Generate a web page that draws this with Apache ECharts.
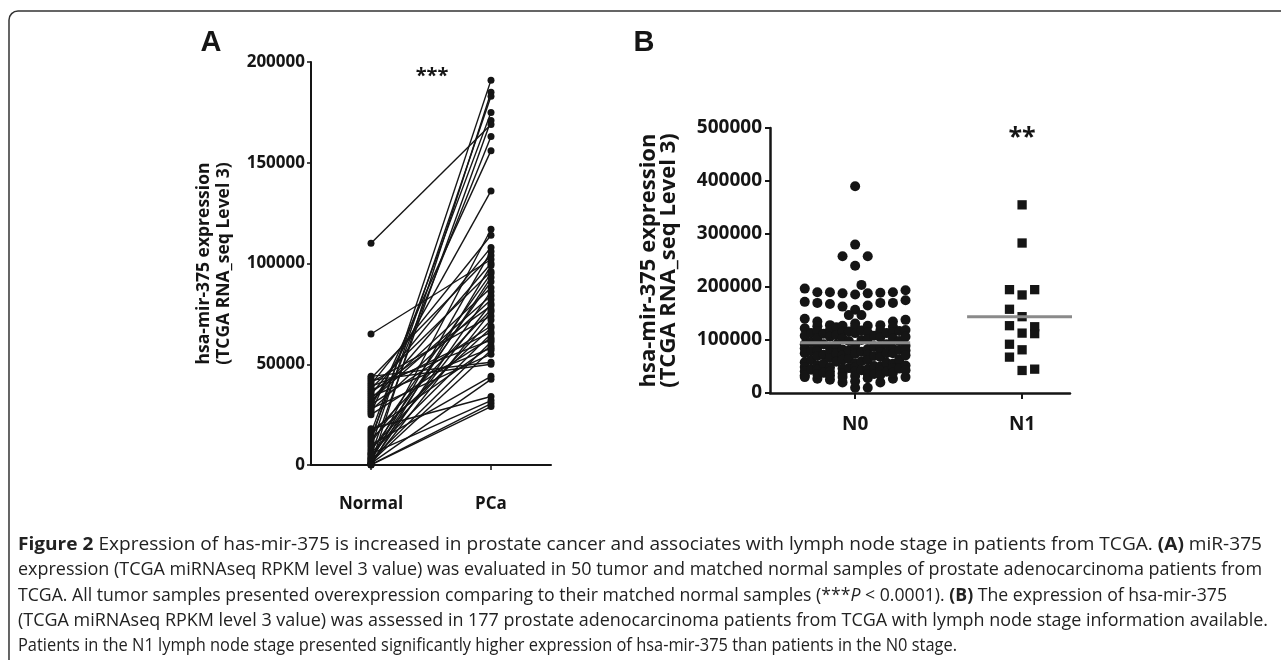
<!DOCTYPE html>
<html><head><meta charset="utf-8">
<script src="https://cdn.jsdelivr.net/npm/echarts@6/dist/echarts.min.js"></script>
<style>html,body{margin:0;padding:0;background:#fff}#c{width:1281px;height:660px}</style>
</head><body><div id="c"></div>
<script>
// ---------- Panel A: paired Normal vs PCa (50 patients) ----------
const panelACategories = ['Normal', 'PCa'];
const pairNormal = [12000, 300, 9000, 16000, 5000, 110000, 14000, 26000, 29000, 3000,
  40000, 35000, 2000, 43000, 65000, 31000, 0, 38000, 11000, 3500,
  7000, 33000, 1000, 32000, 27000, 4000, 36000, 15000, 500, 41000,
  8000, 30000, 13000, 37000, 6000, 25000, 39000, 2500, 17000, 34000,
  1500, 28000, 44000, 42000, 10000, 800, 18000, 5500, 200, 100];
const pairPCa = [191000, 185000, 183000, 175000, 171000, 169000, 163000, 156000, 136000, 117000,
  114000, 108000, 106000, 104000, 102000, 100000, 99000, 96000, 95000, 93000,
  91000, 88000, 86000, 84000, 82000, 80000, 79000, 77000, 76000, 74000,
  72000, 69000, 68000, 66000, 65000, 63000, 62000, 61000, 59000, 58000,
  57000, 55000, 51000, 50000, 44000, 42500, 34000, 32000, 30500, 29000];
const yTickLabelsA = ['0', '50000', '100000', '150000', '200000'];

// ---------- Panel B: N0 vs N1 column scatter ----------
const panelBCategories = ['N0', 'N1'];
// [beeswarm column, value]
const n0Points = [
  [0,390000],[0,280000],[-1,258000],[1,258000],[0,240000],[0.5,204000],
  [-4,197000],[-3,190000],[-2,190000],[-1,188000],[0,186000],[1,188000],[2,189000],[3,190000],[4,194000],
  [-4,172000],[-3,170000],[-2,168000],[-1,163000],[1,165000],[2,170000],[3,170000],[4,175000],
  [0,157000],[-0.5,147000],[0.5,147000],
  [-4,140000],[-3,135000],[3,135000],[4,138000],
  [-4,30000],[-3,27000],[-2,25000],[-1,20000],[0,10000],[1,10000],[2,20000],[3,27000],[4,30000],
  [-4,122000],[-4,108000],[-4,92000],[-4,84000],[-4,75000],[-4,58000],[-4,49000],[-4,41000],[-4,33000],
  [-3.5,113000],[-3.5,96000],[-3.5,79000],[-3.5,62000],[-3.5,44000],
  [-3,126000],[-3,117000],[-3,104000],[-3,87000],[-3,78000],[-3,70000],[-3,52000],[-3,44000],[-3,36000],
  [-2.5,112000],[-2.5,92000],[-2.5,72000],[-2.5,55000],[-2.5,38000],
  [-2,128000],[-2,119000],[-2,106000],[-2,85000],[-2,76000],[-2,66000],[-2,48000],[-2,40000],[-2,33000],
  [-1.5,124000],[-1.5,109000],[-1.5,91000],[-1.5,74000],[-1.5,59000],
  [-1,127000],[-1,116000],[-1,103000],[-1,82000],[-1,71000],[-1,63000],[-1,46000],[-1,37000],[-1,30000],
  [-0.5,116000],[-0.5,98000],[-0.5,80000],[-0.5,64000],[-0.5,47000],
  [0,131000],[0,124000],[0,113000],[0,90000],[0,81000],[0,74000],[0,56000],[0,49000],[0,41000],[0,32000],[0,22000],
  [0.5,118000],[0.5,100000],[0.5,78000],[0.5,60000],[0.5,43000],
  [1,127000],[1,114000],[1,102000],[1,83000],[1,72000],[1,62000],[1,45000],[1,36000],[1,28000],
  [1.5,108000],[1.5,88000],[1.5,70000],[1.5,51000],[1.5,36000],
  [2,128000],[2,118000],[2,105000],[2,86000],[2,77000],[2,68000],[2,50000],[2,42000],[2,34000],
  [2.5,113000],[2.5,92000],[2.5,75000],[2.5,57000],[2.5,40000],
  [3,125000],[3,115000],[3,103000],[3,84000],[3,75000],[3,55000],[3,47000],[3,38000],
  [3.5,117000],[3.5,98000],[3.5,81000],[3.5,63000],[3.5,46000],
  [4,119000],[4,106000],[4,89000],[4,80000],[4,71000],[4,52000],[4,43000]
];
const n1Points = [
  [0,355000],[0,283000],[-1,195000],[0,185000],[1,195000],[-1,158000],[0,144000],[-1,127000],
  [0,113000],[1,125000],[1,112000],[-1,92000],[0,81500],[-1,67700],[0,42500],[1,45000]
];
const groupMeans = [95000, 144000];
const yTickLabelsB = ['0', '100000', '200000', '300000', '400000', '500000'];

// ---------- Caption ----------
const captionLines = [
  [['b','Figure 2'],['r',' Expression of has-mir-375 is increased in prostate cancer and associates with lymph node stage in patients from TCGA. '],['b','(A)'],['r',' miR-375']],
  [['r','expression (TCGA miRNAseq RPKM level 3 value) was evaluated in 50 tumor and matched normal samples of prostate adenocarcinoma patients from']],
  [['r','TCGA. All tumor samples presented overexpression comparing to their matched normal samples (***'],['i','P'],['r',' < 0.0001). '],['b','(B)'],['r',' The expression of hsa-mir-375']],
  [['r','(TCGA miRNAseq RPKM level 3 value) was assessed in 177 prostate adenocarcinoma patients from TCGA with lymph node stage information available.']],
  [['r','Patients in the N1 lymph node stage presented significantly higher expression of hsa-mir-375 than patients in the N0 stage.']]
];
const captionRightEdges = [1262, 1262, 1227, 1268, 957];

// ================= build =================
const FONT = '"Open Sans", "Noto Sans", sans-serif';
const INK = '#151515';
const chart = echarts.init(document.getElementById('c'), null, {renderer: 'canvas'});

const capSize = 18.5;
const capStyles = {
  r: {fontFamily: FONT, fontSize: capSize, fontWeight: 'normal', fill: '#222'},
  b: {fontFamily: FONT, fontSize: capSize, fontWeight: 'bold', fill: '#222'},
  i: {fontFamily: FONT, fontSize: capSize, fontWeight: 'normal', fontStyle: 'italic', fill: '#222'}
};
const ctx = document.createElement('canvas').getContext('2d');
function runFont(k) {
  const s = capStyles[k];
  return (s.fontStyle === 'italic' ? 'italic ' : '') + (s.fontWeight === 'bold' ? 'bold ' : '') + capSize + 'px ' + FONT;
}
const captionLeft = 18, captionTop = 545, captionGap = 25.2;
const captionGraphics = captionLines.map((runs, li) => {
  let w = 0;
  runs.forEach(([k, t]) => { ctx.font = runFont(k); w += ctx.measureText(t).width; });
  const sx = (captionRightEdges[li] - captionLeft) / w;
  return {
    type: 'text', x: captionLeft, y: captionTop + li * captionGap, scaleX: sx, silent: true,
    style: {
      text: runs.map(([k, t]) => '{' + k + '|' + t + '}').join(''),
      rich: capStyles, verticalAlign: 'middle', align: 'left',
      fontFamily: FONT, fontSize: capSize, fill: '#222'
    }
  };
});

const slotStep = 12.6 / 167;
const meanHalf = 55 / 167;

const seriesA = pairNormal.map((n, i) => ({
  type: 'line', xAxisIndex: 0, yAxisIndex: 0, data: [n, pairPCa[i]],
  symbol: 'circle', symbolSize: 7, showSymbol: true,
  lineStyle: {color: INK, width: 1.4}, itemStyle: {color: INK},
  silent: true, animation: false, z: 2
}));

const seriesB = [
  {type: 'scatter', xAxisIndex: 1, yAxisIndex: 1, symbol: 'circle', symbolSize: 10,
   itemStyle: {color: INK, opacity: 1}, silent: true, animation: false, z: 2,
   data: n0Points.map(([s, v]) => [0 + s * slotStep, v])},
  {type: 'scatter', xAxisIndex: 1, yAxisIndex: 1, symbol: 'rect', symbolSize: 9.3,
   itemStyle: {color: INK, opacity: 1}, silent: true, animation: false, z: 2,
   data: n1Points.map(([s, v]) => [1 + s * slotStep, v])},
  ...groupMeans.map((m, g) => ({
    type: 'line', xAxisIndex: 1, yAxisIndex: 1, symbol: 'none', silent: true, animation: false, z: 5,
    lineStyle: {color: '#8a8a8a', width: 3},
    data: [[g - meanHalf, m], [g + meanHalf, m]]
  }))
];

const labelA = {fontFamily: FONT, fontWeight: 'bold', fontSize: 17, color: INK};
const labelB = {fontFamily: FONT, fontWeight: 'bold', fontSize: 19, color: INK};

const option = {
  animation: false,
  backgroundColor: '#fff',
  grid: [
    {left: 311, top: 62, width: 240, height: 403},
    {left: 770, top: 128, width: 300, height: 265}
  ],
  xAxis: [
    {type: 'category', gridIndex: 0, data: panelACategories, boundaryGap: true,
     axisLine: {show: true, onZero: false, lineStyle: {color: INK, width: 2}},
     axisTick: {show: true, alignWithLabel: true, length: 5, lineStyle: {color: INK, width: 1.5}},
     axisLabel: Object.assign({margin: 31, verticalAlign: 'top'}, labelA),
     splitLine: {show: false}},
    {type: 'value', gridIndex: 1, min: -0.51, max: 1.287,
     axisLine: {show: true, onZero: false, lineStyle: {color: INK, width: 2.5}},
     axisTick: {show: true, customValues: [0, 1], length: 6, lineStyle: {color: INK, width: 2}},
     axisLabel: Object.assign({customValues: [0, 1], margin: 22, verticalAlign: 'top',
       formatter: v => panelBCategories[Math.round(v)] || ''}, labelB),
     splitLine: {show: false}}
  ],
  yAxis: [
    {type: 'value', gridIndex: 0, min: 0, max: 200000, interval: 50000,
     axisLine: {show: true, onZero: false, lineStyle: {color: INK, width: 2}},
     axisTick: {show: true, length: 4, lineStyle: {color: INK, width: 1.5}},
     axisLabel: Object.assign({margin: 6, formatter: v => yTickLabelsA[Math.round(v / 50000)]}, labelA),
     splitLine: {show: false},
     name: 'hsa-mir-375 expression\n(TCGA RNA_seq Level 3)', nameLocation: 'middle', nameRotate: 90, nameGap: 77,
     nameTextStyle: {fontFamily: FONT, fontWeight: 'bold', fontSize: 17.5, color: INK, lineHeight: 20}},
    {type: 'value', gridIndex: 1, min: 0, max: 500000, interval: 100000,
     axisLine: {show: true, onZero: false, lineStyle: {color: INK, width: 2.5}},
     axisTick: {show: true, length: 5, lineStyle: {color: INK, width: 2}},
     axisLabel: Object.assign({margin: 8, formatter: v => yTickLabelsB[Math.round(v / 100000)]}, labelB),
     splitLine: {show: false},
     name: 'hsa-mir-375 expression\n(TCGA RNA_seq Level 3)', nameLocation: 'middle', nameRotate: 90, nameGap: 91,
     nameTextStyle: {fontFamily: FONT, fontWeight: 'bold', fontSize: 22, color: INK, lineHeight: 20}}
  ],
  series: [...seriesA, ...seriesB],
  graphic: [
    {type: 'rect', silent: true, shape: {x: 9, y: 11, width: 1300, height: 720, r: 9},
     style: {fill: 'none', stroke: '#333', lineWidth: 1.5}},
    {type: 'text', x: 211, y: 43, silent: true,
     style: {text: 'A', fontFamily: '"Liberation Sans", Arial, sans-serif', fontWeight: 'bold', fontSize: 29, fill: INK, align: 'center', verticalAlign: 'middle'}},
    {type: 'text', x: 644, y: 43, silent: true,
     style: {text: 'B', fontFamily: '"Liberation Sans", Arial, sans-serif', fontWeight: 'bold', fontSize: 29, fill: INK, align: 'center', verticalAlign: 'middle'}},
    {type: 'text', x: 432, y: 76, silent: true,
     style: {text: '***', fontFamily: FONT, fontWeight: 'bold', fontSize: 20, fill: INK, align: 'center', verticalAlign: 'middle'}},
    {type: 'text', x: 1022, y: 138, silent: true,
     style: {text: '**', fontFamily: FONT, fontWeight: 'bold', fontSize: 25, fill: INK, align: 'center', verticalAlign: 'middle'}},
    ...captionGraphics
  ]
};
chart.setOption(option);
</script></body></html>
